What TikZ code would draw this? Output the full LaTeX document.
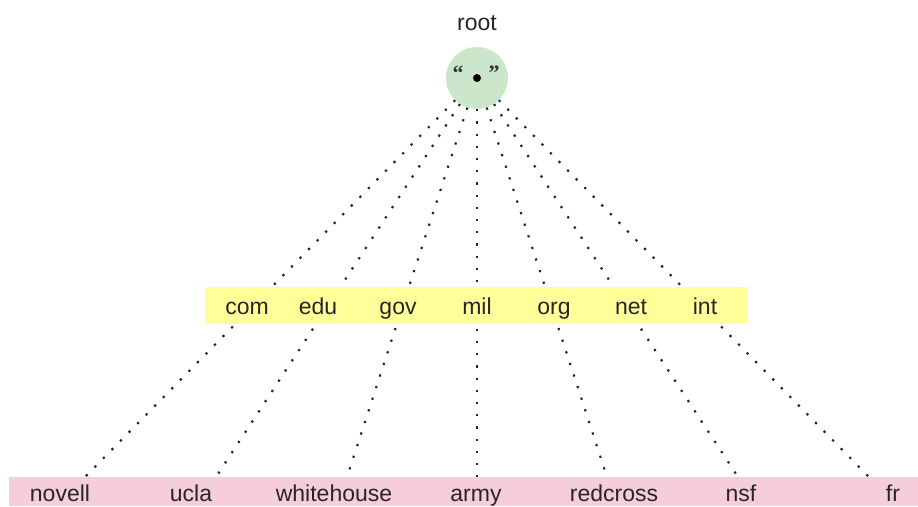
\documentclass[tikz,border=0pt]{standalone}
\usepackage{fontspec}
\setmainfont{Liberation Sans}
\newfontfamily\qserif{Liberation Serif}
\definecolor{rootgreen}{RGB}{204,230,204}
\definecolor{tldyellow}{RGB}{255,255,153}
\definecolor{sldpink}{RGB}{246,205,220}
\begin{document}
\begin{tikzpicture}[x=1pt,y=-1pt,
  lbl/.style={inner sep=0pt, text=black!85, font=\fontsize{23}{23}\selectfont, anchor=base},
  quote/.style={inner sep=0pt, font=\qserif\bfseries\fontsize{22}{22}\selectfont, text=black!80},
  dotline/.style={draw=black!85, line width=2.2pt, dash pattern=on 2.2pt off 10pt}]
\useasboundingbox (0,0) rectangle (918,506);
% root
\node[lbl] (rootlbl) at (477,30) {root};
\node[circle, fill=rootgreen, minimum size=62pt, inner sep=0pt] (root) at (477,78) {};
\node[quote] (lq) at (458,73) {“};
\node[quote] (rq) at (494,73) {”};
\node[circle, fill=black, inner sep=0pt, minimum size=8pt] (dot) at (477,78) {};
% line ends
\coordinate (e1) at (85,477);
\coordinate (e2) at (216,477);
\coordinate (e3) at (347,477);
\coordinate (e4) at (477,477);
\coordinate (e5) at (607,477);
\coordinate (e6) at (738,477);
\coordinate (e7) at (869,477);
\foreach \i in {1,...,7} \draw[dotline] (root) -- (e\i);
% bands
\fill[tldyellow] (205,287) rectangle (748,324);
\fill[sldpink] (9,477) rectangle (918,506);
% TLD labels
\node[lbl] (com) at (247,314) {com};
\node[lbl] (edu) at (318,314) {edu};
\node[lbl] (gov) at (398,314) {gov};
\node[lbl] (mil) at (477,314) {mil};
\node[lbl] (org) at (554,314) {org};
\node[lbl] (net) at (631,314) {net};
\node[lbl] (int) at (705,314) {int};
% second level
\node[lbl] (novell) at (60,501) {novell};
\node[lbl] (ucla) at (191,501) {ucla};
\node[lbl] (whitehouse) at (334,501) {whitehouse};
\node[lbl] (army) at (476,501) {army};
\node[lbl] (redcross) at (614,501) {redcross};
\node[lbl] (nsf) at (741,501) {nsf};
\node[lbl] (fr) at (893,501) {fr};
\end{tikzpicture}
\end{document}
